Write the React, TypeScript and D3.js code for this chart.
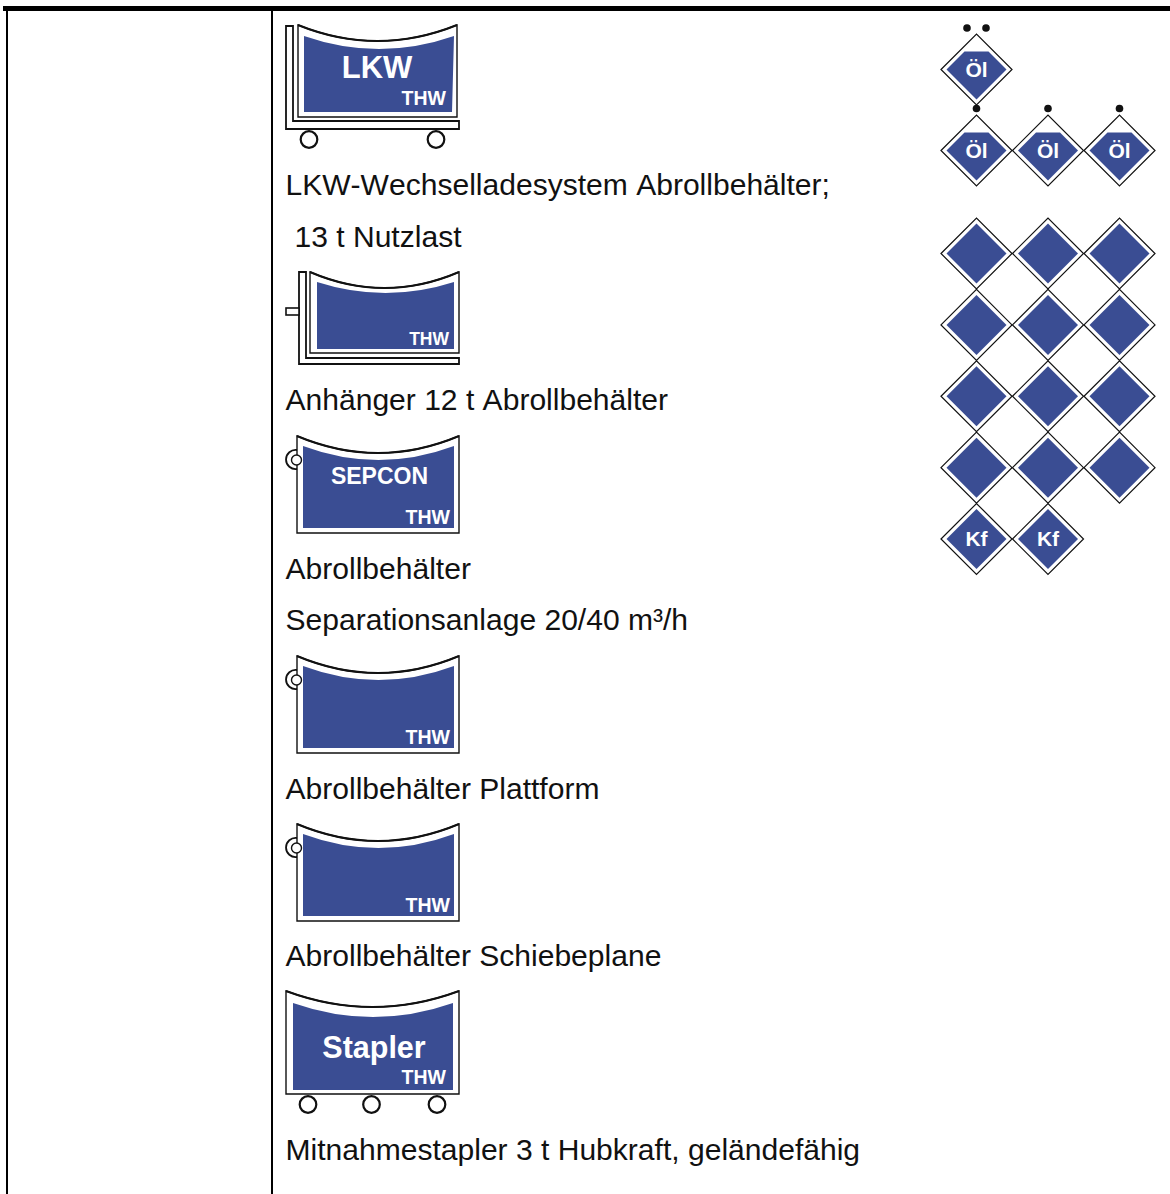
import React from 'react';
import { path, scaleLinear } from 'd3';

const WIDTH = 1170;
const HEIGHT = 1194;
const BLUE = '#3a4d93';
const INK = '#111';
const FONT = '"Liberation Sans", Arial, sans-serif';

// captions of the table cell, top to bottom
const captions = [
  'LKW-Wechselladesystem Abrollbehälter;',
  ' 13 t Nutzlast',
  'Anhänger 12 t Abrollbehälter',
  'Abrollbehälter',
  'Separationsanlage 20/40 m³/h',
  'Abrollbehälter Plattform',
  'Abrollbehälter Schiebeplane',
  'Mitnahmestapler 3 t Hubkraft, geländefähig',
];
const captionBaselines = [195, 247, 410, 579, 630, 799, 966, 1160];
const captionIndent = [0, 9, 0, 0, 0, 0, 0, 0];

// tactical signs on the right
const oilRows = [
  ['Öl'],
  ['Öl', 'Öl', 'Öl'],
];
const oilDots = [
  [2],
  [1, 1, 1],
];
const plainRows = [
  ['', '', ''],
  ['', '', ''],
  ['', '', ''],
  ['', '', ''],
  ['Kf', 'Kf'],
];

const colX = scaleLinear().domain([0, 2]).range([976.5, 1119.5]);
const oilY = scaleLinear().domain([0, 1]).range([69.5, 150.5]);
const plainY = scaleLinear().domain([0, 4]).range([253.5, 539]);

function bodyPath(l: number, r: number, top: number, mid: number, bottom: number, rb = r) {
  const p = path();
  p.moveTo(l, top);
  p.quadraticCurveTo((l + r) / 2, 2 * mid - top, r, top);
  p.lineTo(rb, bottom);
  p.lineTo(l, bottom);
  p.closePath();
  return p.toString();
}

function curvePath(l: number, r: number, top: number, mid: number) {
  const p = path();
  p.moveTo(l, top);
  p.quadraticCurveTo((l + r) / 2, 2 * mid - top, r, top);
  return p.toString();
}

function Sign({ outer, inner, children }: any) {
  return (
    <g>
      <path d={bodyPath(outer[0], outer[1], outer[2], outer[3], outer[4])} fill="#fff" stroke={INK} strokeWidth={1.4} />
      <path d={curvePath(outer[0], outer[1], outer[2], outer[3])} fill="none" stroke={INK} strokeWidth={2} />
      <path d={bodyPath(inner[0], inner[1], inner[2], inner[3], inner[4], inner[5] ?? inner[1])} fill={BLUE} />
      {children}
    </g>
  );
}

function Label({ x, y, size, anchor = 'end', children }: any) {
  return (
    <text x={x} y={y} fontSize={size} fontWeight="bold" fill="#fff" textAnchor={anchor} fontFamily={FONT} style={{ fontKerning: 'none' }}>
      {children}
    </text>
  );
}

function Wheel({ x, y }: any) {
  return <circle cx={x} cy={y} r={8.3} fill="#fff" stroke={INK} strokeWidth={2.2} />;
}

function Frame({ d }: any) {
  return <path d={d} fill="#fff" stroke={INK} strokeWidth={1.8} />;
}

function Ring({ top }: any) {
  return (
    <g fill="none" stroke={INK}>
      <path d={`M297 ${top + 14} A9.6 9.6 0 1 0 297 ${top + 33}`} strokeWidth={1.8} />
      <circle cx={296.5} cy={top + 24} r={5} fill="#fff" strokeWidth={1.4} />
    </g>
  );
}

function RollOff({ top, title }: any) {
  return (
    <g>
      <Sign outer={[297, 459, top, top + 17, top + 97]} inner={[303, 454, top + 10, top + 24, top + 92]}>
        {title && <Label x={379.5} y={top + 48} size={23} anchor="middle">{title}</Label>}
        <Label x={450} y={top + 88} size={19.5}>THW</Label>
      </Sign>
      <Ring top={top} />
    </g>
  );
}

function Diamond({ cx, cy, label, cut }: any) {
  const outerR = 35.5;
  const blueR = 30;
  const p = path();
  if (cut) {
    p.moveTo(cx - blueR, cy);
    p.lineTo(cx - 12, cy - 18);
    p.lineTo(cx + 12, cy - 18);
    p.lineTo(cx + blueR, cy);
    p.lineTo(cx, cy + blueR);
  } else {
    p.moveTo(cx - blueR, cy);
    p.lineTo(cx, cy - blueR);
    p.lineTo(cx + blueR, cy);
    p.lineTo(cx, cy + blueR);
  }
  p.closePath();
  const o = path();
  o.moveTo(cx - outerR, cy);
  o.lineTo(cx, cy - outerR);
  o.lineTo(cx + outerR, cy);
  o.lineTo(cx, cy + outerR);
  o.closePath();
  return (
    <g>
      <path d={o.toString()} fill="#fff" stroke={INK} strokeWidth={1.2} />
      <path d={p.toString()} fill={BLUE} />
      {label && (
        <Label x={cx} y={cy + 7} size={21} anchor="middle">{label}</Label>
      )}
    </g>
  );
}

export default function App() {
  return (
    <svg
      width={WIDTH}
      height={HEIGHT}
      viewBox={`0 0 ${WIDTH} ${HEIGHT}`}
      style={{ position: 'absolute', left: 0, top: 0, background: '#fff' }}
    >
      {/* table rules */}
      <rect x={3} y={6} width={WIDTH - 3} height={5} fill="#000" />
      <rect x={6} y={6} width={2} height={HEIGHT - 6} fill="#000" />
      <rect x={271} y={6} width={2} height={HEIGHT - 6} fill="#000" />

      {/* LKW */}
      <Frame d="M286 26H293V121H459V129H286Z" />
      <Sign outer={[298, 457, 25, 41, 117]} inner={[304, 454, 36, 49, 112, 452]}>
        <Label x={377} y={78} size={31} anchor="middle">LKW</Label>
        <Label x={446} y={105} size={19.5}>THW</Label>
      </Sign>
      <Wheel x={309} y={139.5} />
      <Wheel x={436} y={139.5} />

      {/* Anhänger */}
      <Frame d="M299 272H306V358H459V364H299Z" />
      <rect x={286} y={308} width={13} height={7} fill="#fff" stroke={INK} strokeWidth={1.6} />
      <Sign outer={[310, 459, 272, 288, 353]} inner={[317, 454, 282, 293, 349]}>
        <Label x={449} y={345} size={17.5}>THW</Label>
      </Sign>

      <RollOff top={436} title="SEPCON" />
      <RollOff top={656} />
      <RollOff top={824} />

      {/* Stapler */}
      <Sign outer={[286, 459, 991, 1007, 1094]} inner={[293, 453, 1003, 1017, 1090]}>
        <Label x={374} y={1057.5} size={30.5} anchor="middle">Stapler</Label>
        <Label x={446} y={1084} size={19.5}>THW</Label>
      </Sign>
      <Wheel x={308} y={1104.5} />
      <Wheel x={371.5} y={1104.5} />
      <Wheel x={437} y={1104.5} />

      {/* captions */}
      {captions.map((c, i) => (
        <text
          key={i}
          x={285.5 + captionIndent[i]}
          y={captionBaselines[i]}
          fontSize={30.05}
          fontFamily={FONT}
          fill="#111"
          style={{ fontKerning: 'none' }}
        >
          {c.trim()}
        </text>
      ))}

      {/* oil signs */}
      {oilRows.map((row, r) =>
        row.map((label, c) => (
          <g key={`oil-${r}-${c}`}>
            <Diamond cx={colX(c)} cy={oilY(r)} label={label} cut />
            {oilDots[r][c] === 2 ? (
              <g fill={INK}>
                <circle cx={colX(c) - 9.5} cy={oilY(r) - 41.5} r={3.8} />
                <circle cx={colX(c) + 9.5} cy={oilY(r) - 41.5} r={3.8} />
              </g>
            ) : (
              <circle cx={colX(c)} cy={oilY(r) - 42} r={3.8} fill={INK} />
            )}
          </g>
        ))
      )}

      {/* plain signs */}
      {plainRows.map((row, r) =>
        row.map((label, c) => (
          <Diamond key={`plain-${r}-${c}`} cx={colX(c)} cy={plainY(r)} label={label} />
        ))
      )}
    </svg>
  );
}
